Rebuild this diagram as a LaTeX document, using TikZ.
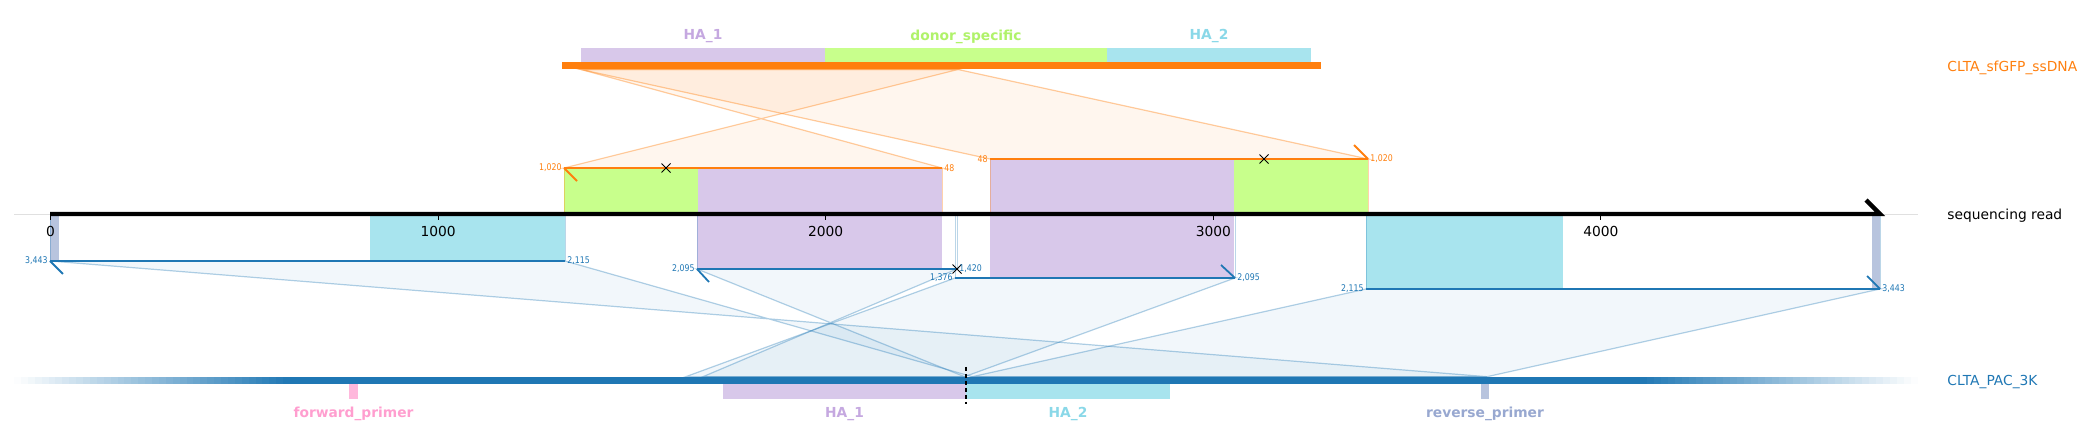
\documentclass[tikz,border=0pt]{standalone}
\usepackage{fontspec}
\setmainfont{DejaVu Sans}
\newfontfamily\numfont[FakeStretch=0.85]{DejaVu Sans}
\usetikzlibrary{shapes.misc}

\definecolor{donororange}{HTML}{FF7F0E}
\definecolor{targetblue}{HTML}{1F77B4}
\definecolor{hapurple}{HTML}{D8C8EA}
\definecolor{hacyan}{HTML}{A8E4EE}
\definecolor{specgreen}{HTML}{C8FF8C}
\definecolor{primerpink}{HTML}{FFB8DC}
\definecolor{primergray}{HTML}{B8C4DE}
\definecolor{labpurple}{HTML}{C5A8E0}
\definecolor{labgreen}{HTML}{B0F26A}
\definecolor{labcyan}{HTML}{8AD8E8}
\definecolor{labpink}{HTML}{FF9ECF}
\definecolor{labgray}{HTML}{98A8D0}

\tikzset{
  featlabel/.style={font=\bfseries\fontsize{6.9}{8}\selectfont, inner sep=0pt},
  seqlabel/.style={font=\fontsize{6.9}{8}\selectfont, anchor=west, inner sep=0pt},
  axislabel/.style={font=\fontsize{6.9}{8}\selectfont, inner sep=0pt},
  poslabel/.style={font=\numfont\fontsize{4.6}{5}\selectfont, inner sep=1pt},
  donorband/.style={fill=donororange, fill opacity=0.07, draw=donororange, draw opacity=0.4, line width=0.6pt},
  targetband/.style={fill=targetblue, fill opacity=0.06, draw=targetblue, draw opacity=0.35, line width=0.6pt},
  donoredge/.style={draw=donororange, draw opacity=0.35, line width=0.5pt},
  targetedge/.style={draw=targetblue, draw opacity=0.3, line width=0.5pt},
  donoraln/.style={donororange, line width=0.9pt},
  targetaln/.style={targetblue, line width=0.9pt},
  mismatch/.style={cross out, draw=black, line width=0.5pt, minimum size=4pt, inner sep=0pt},
}

\begin{document}
\begin{tikzpicture}[x=0.5pt,y=-0.5pt]
\useasboundingbox (0,0) rectangle (2089,448);

% end points of the alignments
\coordinate (d48) at (581,69.5);
\coordinate (d1020) at (958,69.5);
\coordinate (a1L) at (564,168);
\coordinate (a1R) at (942,168);
\coordinate (a2L) at (990,159);
\coordinate (a2R) at (1368,159);
\coordinate (b1L) at (50,261);
\coordinate (b1R) at (565,261);
\coordinate (b2L) at (697,269);
\coordinate (b2R) at (957,269);
\coordinate (b3L) at (955,278);
\coordinate (b3R) at (1235,278);
\coordinate (b4L) at (1366,289);
\coordinate (b4R) at (1880,289);
\coordinate (t1376) at (685.8,376.7);
\coordinate (t1420) at (703,376.7);
\coordinate (t2095) at (964.5,376.7);
\coordinate (t2115) at (972.3,376.7);
\coordinate (t3443) at (1487,376.7);

% bands between references and read
\path[donorband] (d48) -- (d1020) -- (a1L) -- (a1R) -- cycle;
\path[donorband] (d48) -- (d1020) -- (a2R) -- (a2L) -- cycle;
\path[targetband] (b1L) -- (b1R) -- (t2115) -- (t3443) -- cycle;
\path[targetband] (b2L) -- (b2R) -- (t1420) -- (t2095) -- cycle;
\path[targetband] (b3L) -- (b3R) -- (t2095) -- (t1376) -- cycle;
\path[targetband] (b4L) -- (b4R) -- (t3443) -- (t2115) -- cycle;

% features on the read, above
\fill[specgreen] (564,168) rectangle (698,214);
\fill[hapurple] (698,168) rectangle (942,214);
\fill[hapurple] (990,159) rectangle (1234,214);
\fill[specgreen] (1234,159) rectangle (1368,214);
\draw[donoredge] (a1L) -- (564,214) (a1R) -- (942,214);
\draw[donoredge] (a2L) -- (990,214) (a2R) -- (1368,214);

% features on the read, below
\fill[primergray] (50,214) rectangle (59,261);
\fill[hacyan] (370,214) rectangle (565,261);
\fill[hapurple] (697,214) rectangle (942,269);
\fill[hapurple] (990,214) rectangle (1234,278);
\fill[hacyan] (1366,214) rectangle (1563,289);
\fill[primergray] (1872,214) rectangle (1880,289);
\draw[targetedge] (b1L) -- (50,214) (b1R) -- (565,214);
\draw[targetedge] (b2L) -- (697,214) (b2R) -- (957,214);
\draw[targetedge] (b3L) -- (955,214) (b3R) -- (1235,214);
\draw[targetedge] (b4L) -- (1366,214) (b4R) -- (1880,214);

% donor
\fill[hapurple] (581,48) rectangle (825,62.5);
\fill[specgreen] (825,48) rectangle (1107,62.5);
\fill[hacyan] (1107,48) rectangle (1311,62.5);
\fill[donororange] (562,62.5) rectangle (1321,69.5);
\node[featlabel, labpurple] (hatop1) at (703,36.5) {HA\_1};
\node[featlabel, labgreen] (spec) at (966,36.5) {donor\_specific};
\node[featlabel, labcyan] (hatop2) at (1209,36.5) {HA\_2};

% target, fading out at both ends
\foreach \i in {0,...,39}
{
    \pgfmathsetmacro\pct{2.5*(\i+0.5)}
    \fill[targetblue!\pct!white] ({14+6.9*\i},376.7) rectangle ({14.4+6.9*(\i+1)},384);
    \fill[targetblue!\pct!white] ({1918-6.95*\i},376.7) rectangle ({1917.6-6.95*(\i+1)},384);
}
\fill[targetblue] (290,376.7) rectangle (1640,384);
\fill[primerpink] (349,384) rectangle (358,399);
\fill[hapurple] (723,384) rectangle (966,399);
\fill[hacyan] (966,384) rectangle (1170,399);
\fill[primergray] (1481,384) rectangle (1489,399);
\coordinate (cutTop) at (966,367);
\coordinate (cutBot) at (966,404);
\draw[line width=0.65pt, dash pattern=on 2pt off 1.5pt] (cutTop) -- (cutBot);
\node[featlabel, labpink] (fwd) at (353.5,414) {forward\_primer};
\node[featlabel, labpurple] (habot1) at (844.5,414) {HA\_1};
\node[featlabel, labcyan] (habot2) at (1068,414) {HA\_2};
\node[featlabel, labgray] (rev) at (1485,414) {reverse\_primer};

% read axis
\draw[black!12, line width=0.5pt] (14,215) -- (1918,215);
\draw[line width=2.15pt] (50,214) -- (1880,214) -- ++(-14,-14);
\foreach \k/\lab in {0/0,1/1000,2/2000,3/3000,4/4000}
{
    \draw[line width=0.5pt] ({50.5+387.6*\k},214) -- ({50.5+387.6*\k},220);
    \node[axislabel] (tick\k) at ({50.5+387.6*\k},231) {\lab};
}

% alignments
\draw[donoraln] (a1L) -- (a1R);
\draw[donoraln] (a1L) -- ++(13,13);
\draw[donoraln] (a2L) -- (a2R);
\draw[donoraln] (a2R) -- ++(-14,-14);
\draw[targetaln] (b1L) -- (b1R);
\draw[targetaln] (b1L) -- ++(13,13);
\draw[targetaln] (b2L) -- (b2R);
\draw[targetaln] (b2L) -- ++(12,13);
\draw[targetaln] (b3L) -- (b3R);
\draw[targetaln] (b3R) -- ++(-14,-13);
\draw[targetaln] (b4L) -- (b4R);
\draw[targetaln] (b4R) -- ++(-13,-13);
\node[mismatch] (mm1) at (666,168) {};
\node[mismatch] (mm2) at (1264,159) {};
\node[mismatch] (mm3) at (957,269) {};

% coordinates on the references
\node[poslabel, donororange, anchor=east] (p1) at (a1L) {1,020};
\node[poslabel, donororange, anchor=west] (p2) at (a1R) {48};
\node[poslabel, donororange, anchor=east] (p3) at (a2L) {48};
\node[poslabel, donororange, anchor=west] (p4) at (a2R) {1,020};
\node[poslabel, targetblue, anchor=east] (p5) at (b1L) {3,443};
\node[poslabel, targetblue, anchor=west] (p6) at (b1R) {2,115};
\node[poslabel, targetblue, anchor=east] (p7) at (b2L) {2,095};
\node[poslabel, targetblue, anchor=west] (p8) at (b2R) {1,420};
\node[poslabel, targetblue, anchor=east] (p9) at (b3L) {1,376};
\node[poslabel, targetblue, anchor=west] (p10) at (b3R) {2,095};
\node[poslabel, targetblue, anchor=east] (p11) at (b4L) {2,115};
\node[poslabel, targetblue, anchor=west] (p12) at (b4R) {3,443};

% names
\node[seqlabel, donororange] (donor) at (1947,68) {CLTA\_sfGFP\_ssDNA};
\node[seqlabel] (read) at (1947,216) {sequencing read};
\node[seqlabel, targetblue] (target) at (1947,382) {CLTA\_PAC\_3K};
\end{tikzpicture}
\end{document}
